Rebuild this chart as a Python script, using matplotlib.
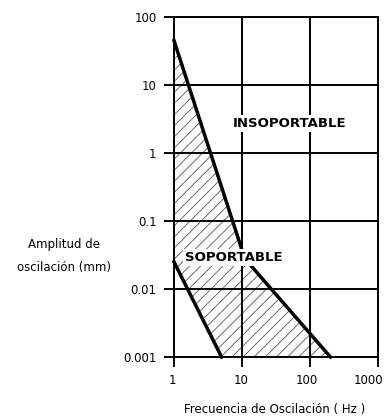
import matplotlib
matplotlib.use("Agg")
import matplotlib.pyplot as plt
from matplotlib import transforms

# limite superior (zona soportable / insoportable)
upper_freq = [1, 11, 200]
upper_amp = [45, 0.028, 0.001]
# limite inferior
lower_freq = [1, 5]
lower_amp = [0.025, 0.001]

x_ticks = [1, 10, 100, 1000]
x_labels = ["1", "10", "100", "1000"]
y_ticks = [0.001, 0.01, 0.1, 1, 10, 100]
y_labels = ["0.001", "0.01", "0.1", "1", "10", "100"]

plt.rcParams['font.family'] = ['DejaVu Sans']
plt.rcParams['hatch.linewidth'] = 0.6
plt.rcParams['hatch.color'] = '#555555'

fig = plt.figure(figsize=(3.88, 4.2), dpi=100)
ax = fig.add_axes([0.4485, 0.15, 0.5255, 0.8095])
ax.set_xscale("log")
ax.set_yscale("log")
ax.set_xlim(1, 1000)
ax.set_ylim(0.001, 100)

# zona sombreada entre las dos curvas
poly_x = upper_freq + lower_freq[::-1]
poly_y = upper_amp + lower_amp[::-1]
ax.fill(poly_x, poly_y, facecolor='none', edgecolor='#555555', hatch='///', linewidth=0, zorder=1)

ax.grid(True, which='major', color='black', linewidth=1.4, zorder=2)
ax.set_axisbelow(False)
for s in ax.spines.values():
    s.set_linewidth(1.4)

ax.plot(upper_freq, upper_amp, color='black', linewidth=2.5, zorder=3, clip_on=False)
ax.plot(lower_freq, lower_amp, color='black', linewidth=2.5, zorder=3, clip_on=False)

ax.set_xticks(x_ticks)
ax.set_xticklabels(x_labels)
ax.set_yticks(y_ticks)
ax.set_yticklabels(y_labels)
ax.minorticks_off()
ax.tick_params(direction='out', length=7.5, width=1.4, labelsize=8.5, pad=5, colors='black')

# correr un poco las etiquetas del eje x a la izquierda (como en el original)
shifts = [-2, -1, -3, -9]
for lab, dx in zip(ax.get_xticklabels(), shifts):
    lab.set_transform(lab.get_transform() + transforms.ScaledTranslation(dx / 100, 0, fig.dpi_scale_trans))

ax.text(50, 2.75, "INSOPORTABLE", fontsize=9.5, fontweight='bold', ha='center', va='center',
        bbox=dict(facecolor='white', edgecolor='none', pad=1.5), zorder=4)
ax.text(7.6, 0.029, "SOPORTABLE", fontsize=9.5, fontweight='bold', ha='center', va='center',
        bbox=dict(facecolor='white', edgecolor='none', pad=1.5), zorder=4)

fig.text(64 / 388, 1 - 256 / 420, "Amplitud de\noscilación (mm)", fontsize=8.5,
         ha='center', va='center', linespacing=2.0)
fig.text(275 / 388, 1 - 410 / 420, "Frecuencia de Oscilación ( Hz )", fontsize=8.5,
         ha='center', va='center')

plt.savefig("out.png", dpi=100)
